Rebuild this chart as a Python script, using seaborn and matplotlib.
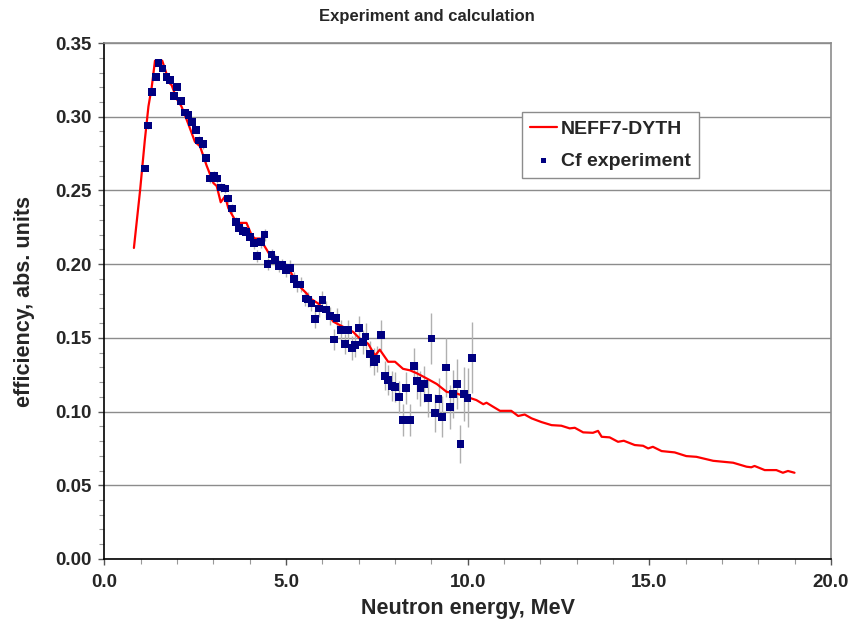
import numpy as np
import pandas as pd
import matplotlib
matplotlib.use("Agg")
import matplotlib.pyplot as plt
from matplotlib.ticker import MultipleLocator, FormatStrFormatter
import seaborn as sns

# calculated efficiency curve (NEFF7-DYTH)
calc_energy = [0.81, 0.98, 1.11, 1.21, 1.30, 1.39, 1.59, 1.71, 1.80, 1.85, 1.99, 2.12,
               2.31, 2.49, 2.63, 2.81, 3.00, 3.09, 3.20, 3.32, 3.41, 3.64, 3.91, 4.05,
               4.14, 4.28, 4.56, 4.78, 5.10, 5.29, 5.43, 5.57, 5.66, 5.88, 6.07, 6.30,
               6.57, 6.85, 7.03, 7.26, 7.45, 7.58, 7.81, 8.00, 8.22, 8.41, 8.60, 8.87,
               9.15, 9.42, 9.69, 9.97, 10.24, 10.43, 10.52, 10.70, 10.89, 11.20, 11.39,
               11.57, 11.76, 12.03, 12.31, 12.58, 12.81, 12.95, 13.18, 13.45, 13.59,
               13.69, 13.91, 14.14, 14.30, 14.60, 14.83, 14.97, 15.10, 15.34, 15.70,
               16.02, 16.30, 16.76, 17.31, 17.68, 17.81, 17.90, 18.18, 18.50, 18.68,
               18.82, 19.00]
calc_eff = [0.211, 0.250, 0.284, 0.307, 0.320, 0.338, 0.338, 0.329, 0.3226, 0.3214, 0.312,
            0.307, 0.295, 0.283, 0.280, 0.267, 0.255, 0.253, 0.242, 0.246, 0.238, 0.228,
            0.228, 0.2197, 0.2174, 0.2174, 0.206, 0.2005, 0.196, 0.187, 0.1835, 0.180,
            0.1768, 0.1734, 0.169, 0.161, 0.1575, 0.154, 0.1495, 0.146, 0.138, 0.142,
            0.1338, 0.1338, 0.129, 0.128, 0.126, 0.1225, 0.1187, 0.1134, 0.1123, 0.110,
            0.1078, 0.105, 0.106, 0.1033, 0.1005, 0.1005, 0.097, 0.098, 0.0954, 0.0929,
            0.0908, 0.0904, 0.0886, 0.089, 0.0859, 0.0856, 0.0869, 0.0829, 0.0825,
            0.0795, 0.0802, 0.0773, 0.0768, 0.075, 0.0761, 0.0732, 0.0723, 0.0698,
            0.0693, 0.0666, 0.0653, 0.0626, 0.0622, 0.0631, 0.0603, 0.0603, 0.0585,
            0.0597, 0.0585]

# Cf experiment
exp_energy = [1.11, 1.19, 1.30, 1.41, 1.49, 1.60, 1.71, 1.80, 1.91, 1.99, 2.10, 2.22,
              2.31, 2.41, 2.52, 2.60, 2.71, 2.79, 2.90, 3.01, 3.09, 3.20, 3.32, 3.40,
              3.51, 3.62, 3.70, 3.82, 3.90, 4.00, 4.12, 4.20, 4.31, 4.41, 4.49, 4.60,
              4.69, 4.80, 4.90, 5.00, 5.10, 5.22, 5.29, 5.40, 5.53, 5.61, 5.70, 5.79,
              5.90, 6.00, 6.10, 6.21, 6.32, 6.39, 6.51, 6.62, 6.71, 6.82, 6.90, 7.00,
              7.12, 7.19, 7.31, 7.42, 7.49, 7.61, 7.72, 7.80, 7.91, 8.00, 8.11, 8.21,
              8.30, 8.41, 8.52, 8.60, 8.70, 8.79, 8.90, 9.00, 9.10, 9.20, 9.30, 9.40,
              9.51, 9.59, 9.70, 9.80, 9.90, 10.00, 10.12]
exp_eff = [0.265, 0.294, 0.317, 0.327, 0.3365, 0.3327, 0.327, 0.325, 0.314, 0.320, 0.3107,
           0.303, 0.301, 0.2965, 0.291, 0.284, 0.2814, 0.272, 0.258, 0.260, 0.258, 0.252,
           0.2513, 0.2445, 0.2378, 0.2287, 0.2247, 0.2226, 0.222, 0.2185, 0.2145, 0.2056,
           0.2151, 0.220, 0.200, 0.2066, 0.2027, 0.1989, 0.1998, 0.196, 0.1975, 0.190,
           0.1863, 0.1863, 0.1768, 0.176, 0.1734, 0.163, 0.170, 0.1756, 0.1693, 0.165,
           0.149, 0.1636, 0.1553, 0.1458, 0.1553, 0.1433, 0.145, 0.1568, 0.147, 0.151,
           0.139, 0.1338, 0.1356, 0.152, 0.1243, 0.1214, 0.1173, 0.1168, 0.110, 0.0942,
           0.1161, 0.0942, 0.1308, 0.1207, 0.1157, 0.1187, 0.1094, 0.1496, 0.0992, 0.1085,
           0.0965, 0.130, 0.1033, 0.1119, 0.1187, 0.078, 0.1119, 0.1094, 0.1365]
exp_err = [0.002, 0.002, 0.002, 0.002, 0.002, 0.002, 0.002, 0.002, 0.002, 0.002, 0.002,
           0.002, 0.002, 0.002, 0.002, 0.003, 0.003, 0.003, 0.003, 0.003, 0.003, 0.003,
           0.003, 0.003, 0.003, 0.003, 0.003, 0.003, 0.003, 0.003, 0.004, 0.004, 0.004,
           0.004, 0.004, 0.004, 0.004, 0.004, 0.004, 0.005, 0.005, 0.005, 0.005, 0.005,
           0.005, 0.005, 0.005, 0.006, 0.006, 0.006, 0.006, 0.006, 0.007, 0.007, 0.007,
           0.007, 0.007, 0.008, 0.008, 0.008, 0.008, 0.009, 0.009, 0.009, 0.009, 0.01,
           0.01, 0.01, 0.01, 0.01, 0.011, 0.011, 0.011, 0.011, 0.012, 0.012, 0.012,
           0.012, 0.013, 0.0175, 0.013, 0.014, 0.014, 0.02, 0.015, 0.016, 0.017, 0.013,
           0.018, 0.02, 0.024]

calc = pd.DataFrame({"energy": calc_energy, "eff": calc_eff})
exp = pd.DataFrame({"energy": exp_energy, "eff": exp_eff, "err": exp_err})

sns.set_style("white")
plt.rcParams["font.family"] = ["Liberation Sans", "DejaVu Sans"]
plt.rcParams["font.weight"] = "bold"

fig = plt.figure(figsize=(8.53, 6.24), dpi=100)
ax = fig.add_axes([0.1225, 0.1042, 0.8515, 0.8268])

ax.yaxis.grid(True, color="#8c8c8c", linewidth=1)
ax.set_axisbelow(True)

ax.errorbar(exp["energy"], exp["eff"], yerr=exp["err"], fmt="none",
            ecolor="#b0b0b0", elinewidth=1, zorder=2)
sns.lineplot(data=calc, x="energy", y="eff", ax=ax, color="#ff0000",
             linewidth=1.6, label="NEFF7-DYTH", zorder=3, sort=False)
sns.scatterplot(data=exp, x="energy", y="eff", ax=ax, color="#000080",
                marker="s", s=30, edgecolor="none", label="Cf experiment", zorder=4)

ax.set_xlim(0, 20)
ax.set_ylim(0, 0.35)
ax.xaxis.set_major_locator(MultipleLocator(5))
ax.xaxis.set_minor_locator(MultipleLocator(1))
ax.yaxis.set_major_locator(MultipleLocator(0.05))
ax.yaxis.set_minor_locator(MultipleLocator(0.01))
ax.xaxis.set_major_formatter(FormatStrFormatter("%.1f"))
ax.yaxis.set_major_formatter(FormatStrFormatter("%.2f"))
ax.tick_params(axis="both", which="major", direction="out", length=4, width=1,
               color="#555555", labelsize=13.5, pad=5)
ax.tick_params(axis="x", which="major", pad=7)
ax.tick_params(axis="both", which="minor", direction="out", length=3.5, width=0.8,
               color="#999999")
ax.tick_params(axis="x", which="both", bottom=True)
ax.tick_params(axis="y", which="both", left=True)
for lab in ax.get_xticklabels() + ax.get_yticklabels():
    lab.set_fontweight("bold")

for side in ["left", "bottom"]:
    ax.spines[side].set_color("black")
    ax.spines[side].set_linewidth(1.2)
for side in ["top", "right"]:
    ax.spines[side].set_color("#8c8c8c")
    ax.spines[side].set_linewidth(1.2)

fig.text(0.5, 0.973, "Experiment and calculation", ha="center", va="center",
         fontsize=12, fontweight="bold")
ax.set_xlabel("Neutron energy, MeV", fontsize=15.5, fontweight="bold")
ax.set_ylabel("efficiency, abs. units", fontsize=15.5, fontweight="bold")
ax.xaxis.set_label_coords(0.5, -0.075)
ax.yaxis.set_label_coords(-0.095, 0.5)

leg = ax.legend(loc="upper left", bbox_to_anchor=(0.575, 0.866), borderaxespad=0,
                frameon=True, fancybox=False, framealpha=1, edgecolor="#8c8c8c",
                prop={"weight": "bold", "size": 14}, handlelength=1.4,
                handletextpad=0.2, borderpad=0.4, labelspacing=0.75, markerscale=0.7)
leg.get_frame().set_linewidth(1)

fig.savefig("out.png", dpi=100)
